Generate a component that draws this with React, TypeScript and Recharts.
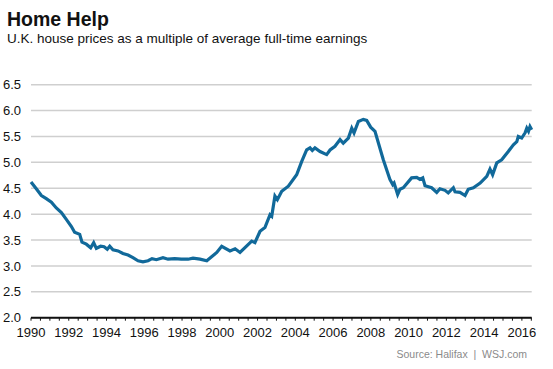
import { CartesianGrid, Line, LineChart, XAxis, YAxis } from 'recharts';

// time in fractional years, multiple of average earnings
const years = [
  1990.0, 1990.28, 1990.55, 1990.81, 1991.08, 1991.34, 1991.61, 1991.87, 1992.14, 1992.31,
  1992.58, 1992.7, 1992.93, 1993.16, 1993.32, 1993.46, 1993.69, 1993.87, 1994.04, 1994.17,
  1994.34, 1994.61, 1994.87, 1995.14, 1995.4, 1995.67, 1995.93, 1996.2, 1996.41, 1996.64,
  1996.99, 1997.26, 1997.61, 1997.96, 1998.32, 1998.58, 1998.95, 1999.31, 1999.84, 2000.1,
  2000.54, 2000.81, 2001.07, 2001.69, 2001.86, 2002.13, 2002.39, 2002.66, 2002.75, 2002.92,
  2003.05, 2003.28, 2003.63, 2004.07, 2004.34, 2004.6, 2004.78, 2004.9, 2005.04, 2005.31,
  2005.66, 2005.84, 2006.1, 2006.37, 2006.54, 2006.81, 2006.99, 2007.11, 2007.34, 2007.6,
  2007.78, 2007.99, 2008.22, 2008.66, 2009.01, 2009.16, 2009.23, 2009.42, 2009.54, 2009.72,
  2010.16, 2010.43, 2010.6, 2010.75, 2010.87, 2011.22, 2011.49, 2011.66, 2011.93, 2012.1,
  2012.37, 2012.46, 2012.72, 2012.99, 2013.16, 2013.43, 2013.79, 2014.14, 2014.31, 2014.45,
  2014.67, 2014.93, 2015.28, 2015.55, 2015.73, 2015.81, 2015.99, 2016.17, 2016.26, 2016.35,
  2016.43, 2016.52,
];

const multiples = [
  4.62, 4.49, 4.36, 4.3, 4.23, 4.12, 4.03, 3.9, 3.76, 3.65,
  3.61, 3.46, 3.42, 3.35, 3.45, 3.34, 3.38, 3.37, 3.32, 3.38,
  3.31, 3.29, 3.24, 3.21, 3.16, 3.1, 3.08, 3.1, 3.14, 3.12,
  3.16, 3.13, 3.14, 3.13, 3.13, 3.15, 3.13, 3.1, 3.26, 3.38,
  3.29, 3.33, 3.26, 3.48, 3.45, 3.67, 3.74, 3.99, 3.96, 4.35,
  4.28, 4.44, 4.54, 4.76, 5.02, 5.24, 5.28, 5.23, 5.28, 5.21,
  5.15, 5.24, 5.31, 5.44, 5.37, 5.47, 5.66, 5.57, 5.79, 5.83,
  5.81, 5.68, 5.6, 5.05, 4.67, 4.57, 4.6, 4.38, 4.48, 4.51,
  4.7, 4.71, 4.67, 4.7, 4.55, 4.51, 4.42, 4.49, 4.46, 4.41,
  4.51, 4.43, 4.42, 4.36, 4.48, 4.51, 4.6, 4.73, 4.87, 4.76,
  4.99, 5.05, 5.21, 5.34, 5.4, 5.5, 5.47, 5.57, 5.66, 5.6,
  5.69, 5.63,
];

const yTicks = [2, 2.5, 3, 3.5, 4, 4.5, 5, 5.5, 6, 6.5];
const halfYearTicks = Array.from({ length: 54 }, (_, i) => 1990 + i * 0.5);

const data = years.map((t, i) => ({ t, value: multiples[i] }));

const FONT = '"Liberation Sans", Arial, sans-serif';

export default function App() {
  return (
    <div style={{ position: 'relative', width: 553, height: 369, background: '#fff', fontFamily: FONT }}>
      <style>{'body{margin:0}'}</style>
      <div style={{ position: 'absolute', left: 7, top: 7, fontSize: 19.5, fontWeight: 700, color: '#111', lineHeight: '24px' }}>
        Home Help
      </div>
      <div style={{ position: 'absolute', left: 7, top: 31, fontSize: 13.5, color: '#111', lineHeight: '16px' }}>
        U.K. house prices as a multiple of average full-time earnings
      </div>

      <LineChart
        width={553}
        height={369}
        data={data}
        margin={{ top: 84.7, right: 21.3, bottom: 21.3, left: 0 }}
        style={{ position: 'absolute', left: 0, top: 0 }}
      >
        <CartesianGrid vertical={false} stroke="#cfcfcf" strokeWidth={1.5} />
        <XAxis
          dataKey="t"
          type="number"
          domain={[1990, 2016.52]}
          ticks={halfYearTicks}
          interval={0}
          height={30}
          tickFormatter={(v: number) => (Number.isInteger(v) && v % 2 === 0 ? String(v) : '')}
          axisLine={{ stroke: '#111', strokeWidth: 2 }}
          tickLine={{ stroke: '#111', strokeWidth: 1 }}
          tickSize={3}
          tickMargin={7}
          tick={{ fontSize: 13, fill: '#111', fontFamily: FONT }}
        />
        <YAxis
          type="number"
          domain={[2, 6.5]}
          ticks={yTicks}
          interval={0}
          width={31}
          axisLine={false}
          tickLine={false}
          tickSize={0}
          tickMargin={10}
          tickFormatter={(v: number) => v.toFixed(1)}
          tick={{ fontSize: 13, fill: '#111', fontFamily: FONT }}
        />
        <Line
          type="linear"
          dataKey="value"
          stroke="#11699a"
          strokeWidth={3.2}
          dot={false}
          isAnimationActive={false}
        />
      </LineChart>

      <div
        style={{
          position: 'absolute',
          right: 553 - 527,
          top: 348,
          fontSize: 10.5,
          color: '#8a8a8a',
          whiteSpace: 'pre',
          lineHeight: '13px',
        }}
      >
        {'Source: Halifax  |  WSJ.com'}
      </div>
    </div>
  );
}
